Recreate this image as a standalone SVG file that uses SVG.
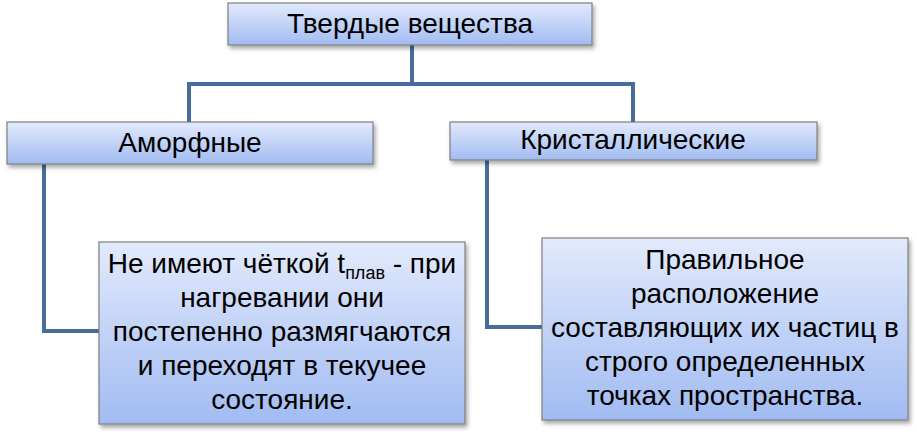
<svg xmlns="http://www.w3.org/2000/svg" width="917" height="435" viewBox="0 0 917 435">
<style>
.box{fill:url(#g);stroke:#7f7f7f;stroke-width:1.2;filter:url(#sh)}
.t{font-family:"Liberation Sans",Arial,sans-serif;font-size:28px;fill:#000;text-anchor:middle}
.c{fill:none;stroke:#4a6c9c;stroke-width:4;stroke-linejoin:miter}
</style>
<defs>
<linearGradient id="g" x1="0" y1="0" x2="0" y2="1">
<stop offset="0" stop-color="#e2eafc"/>
<stop offset="1" stop-color="#a1bbf2"/>
</linearGradient>
<filter id="sh" x="-10%" y="-10%" width="120%" height="130%">
<feDropShadow dx="2" dy="3" stdDeviation="2" flood-color="#000" flood-opacity="0.35"/>
</filter>
</defs>
<rect width="917" height="435" fill="#fff"/>
<g id="connectors">
<path class="c" d="M412,45 V84"/>
<path class="c" d="M189,122 V84 H633 V122"/>
<path class="c" d="M44,164 V331 H99"/>
<path class="c" d="M487,160 V327 H542"/>
</g>
<g id="node-top">
<rect class="box" x="228" y="3" width="364" height="42"/>
<text class="t" x="410" y="33">Твердые вещества</text>
</g>
<g id="node-amorph">
<rect class="box" x="7" y="122" width="366" height="42"/>
<text class="t" x="190" y="152">Аморфные</text>
</g>
<g id="node-cryst">
<rect class="box" x="450" y="122" width="367" height="38"/>
<text class="t" x="633" y="149">Кристаллические</text>
</g>
<g id="node-amorph-desc">
<rect class="box" x="99" y="242" width="366" height="182"/>
<text class="t" x="282" y="273">Не имеют чёткой t<tspan font-size="18" dy="6">плав</tspan><tspan dy="-6"> - при</tspan></text>
<text class="t" x="282" y="307">нагревании они</text>
<text class="t" x="282" y="341">постепенно размягчаются</text>
<text class="t" x="282" y="375">и переходят в текучее</text>
<text class="t" x="282" y="409">состояние.</text>
</g>
<g id="node-cryst-desc">
<rect class="box" x="542" y="238" width="366" height="182"/>
<text class="t" x="725" y="269">Правильное</text>
<text class="t" x="725" y="303">расположение</text>
<text class="t" x="725" y="337">составляющих их частиц в</text>
<text class="t" x="725" y="371">строго определенных</text>
<text class="t" x="725" y="405">точках пространства.</text>
</g>
</svg>
